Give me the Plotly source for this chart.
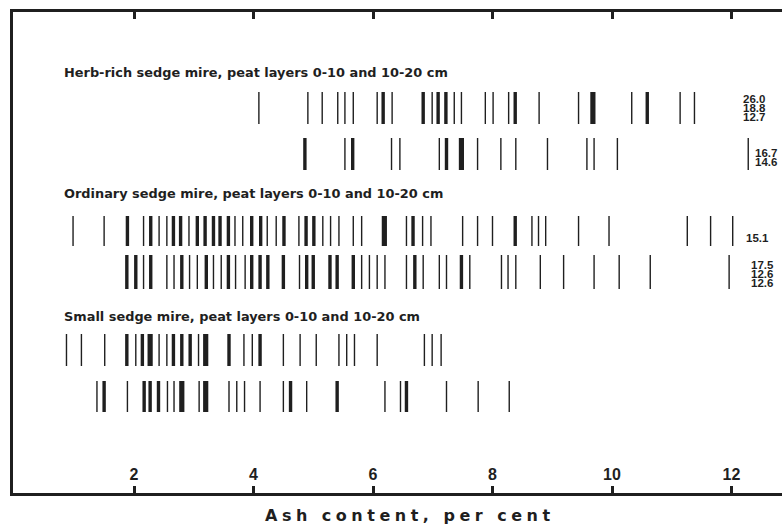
import plotly.graph_objects as go
from collections import Counter

# Ash content (per cent) of individual peat samples; a repeated value marks
# coinciding samples and is drawn as a heavier bar.
herb_0_10 = [4.09, 4.91, 5.15, 5.41, 5.53, 5.67, 6.07, 6.17, 6.17, 6.32, 6.84, 6.84,
             6.99, 7.09, 7.09, 7.22, 7.22, 7.36, 7.48, 7.88, 8.01, 8.27, 8.38, 8.38,
             8.78, 9.44, 9.68, 9.68, 9.68, 10.33, 10.59, 10.59, 11.14, 11.38]
herb_10_20 = [4.86, 4.86, 5.53, 5.66, 5.66, 6.31, 6.45, 7.11, 7.23, 7.23, 7.48, 7.48,
              7.48, 7.75, 8.14, 8.39, 8.92, 9.58, 9.70, 10.09, 12.28]
ordinary_0_10 = [0.98, 1.50, 1.89, 1.89, 2.16, 2.28, 2.28, 2.42, 2.55, 2.66, 2.66,
                 2.78, 2.78, 2.92, 3.06, 3.06, 3.19, 3.19, 3.33, 3.33, 3.44, 3.44,
                 3.58, 3.58, 3.69, 3.82, 3.97, 3.97, 4.12, 4.12, 4.23, 4.38, 4.51,
                 4.51, 4.76, 4.88, 4.88, 5.01, 5.01, 5.16, 5.29, 5.43, 5.67, 5.81,
                 6.19, 6.19, 6.19, 6.56, 6.67, 6.67, 6.83, 6.97, 7.50, 7.75, 8.00,
                 8.38, 8.38, 8.66, 8.77, 8.89, 9.44, 9.95, 11.26, 11.65, 12.02]
ordinary_10_20 = [1.88, 1.88, 2.03, 2.03, 2.16, 2.28, 2.28, 2.55, 2.67, 2.80, 2.80,
                  2.93, 3.06, 3.21, 3.21, 3.33, 3.46, 3.58, 3.58, 3.70, 3.86, 3.97,
                  3.97, 4.11, 4.11, 4.24, 4.24, 4.50, 4.50, 4.77, 4.89, 4.89, 5.00,
                  5.00, 5.28, 5.28, 5.40, 5.40, 5.67, 5.67, 5.81, 5.94, 6.07, 6.20,
                  6.56, 6.70, 6.70, 6.84, 7.11, 7.23, 7.48, 7.48, 7.62, 8.15, 8.26,
                  8.39, 8.80, 9.19, 9.70, 10.12, 10.64, 11.96]
small_0_10 = [0.87, 1.12, 1.51, 1.88, 1.88, 2.03, 2.14, 2.14, 2.27, 2.27, 2.27, 2.42,
              2.55, 2.66, 2.66, 2.80, 2.80, 2.94, 2.94, 3.08, 3.20, 3.20, 3.20, 3.59,
              3.59, 3.84, 3.98, 4.11, 4.11, 4.50, 4.78, 5.05, 5.43, 5.56, 5.69, 6.07,
              6.86, 6.99, 7.14]
small_10_20 = [1.38, 1.50, 1.50, 1.89, 2.17, 2.17, 2.27, 2.27, 2.41, 2.41, 2.56, 2.67,
               2.80, 2.80, 2.80, 3.09, 3.20, 3.20, 3.20, 3.59, 3.72, 3.85, 4.11, 4.50,
               4.62, 4.62, 4.89, 5.40, 5.40, 6.20, 6.46, 6.56, 6.56, 7.23, 7.76, 8.28]

# Samples lying beyond the drawn scale, listed as numbers at the right margin
offscale_herb_0_10 = [26.0, 18.8, 12.7]
offscale_herb_10_20 = [16.7, 14.6]
offscale_ordinary_0_10 = [15.1]
offscale_ordinary_10_20 = [17.5, 12.6, 12.6]

group_titles = ["Herb-rich sedge mire, peat layers 0-10 and 10-20 cm",
                "Ordinary sedge mire, peat layers 0-10 and 10-20 cm",
                "Small sedge mire, peat layers 0-10 and 10-20 cm"]

tick_values = [2, 4, 6, 8, 10, 12]
tick_labels = ["2", "4", "6", "8", "10", "12"]
x_title = "Ash content, per cent"

# ---- layout helpers (vertical units are pixels measured from the top frame) ----
INK = "#1f1f1f"
rows = [
    (herb_0_10, 80, 112, offscale_herb_0_10, 12.18, 87),
    (herb_10_20, 126, 158, offscale_herb_10_20, 12.37, 141),
    (ordinary_0_10, 204, 234, offscale_ordinary_0_10, 12.23, 226),
    (ordinary_10_20, 243, 277, offscale_ordinary_10_20, 12.31, 253),
    (small_0_10, 322, 354, [], 0, 0),
    (small_10_20, 369, 400, [], 0, 0),
]
title_y = [60, 181, 304]
bar_width = {1: 1.4, 2: 3.4, 3: 5.2}

fig = go.Figure()
for values, top, bottom, extra, ex_x, ex_y in rows:
    counts = Counter(values)
    by_weight = {}
    for v, n in counts.items():
        by_weight.setdefault(min(n, 3), []).append(v)
    for n, vs in sorted(by_weight.items()):
        xs, ys = [], []
        for v in sorted(vs):
            xs += [v, v, None]
            ys += [top, bottom, None]
        fig.add_trace(go.Scatter(x=xs, y=ys, mode="lines",
                                 line=dict(color=INK, width=bar_width[n]),
                                 hoverinfo="skip", showlegend=False))
    for i, val in enumerate(extra):
        fig.add_annotation(x=ex_x, y=ex_y + 9 * i, xref="x", yref="y",
                           text=f"{val:.1f}", showarrow=False,
                           xanchor="left", yanchor="middle", borderpad=0,
                           font=dict(family="Liberation Sans Narrow, Liberation Sans, Arial",
                                     size=11.5, color=INK, weight="bold"))

for t, y in zip(group_titles, title_y):
    fig.add_annotation(x=0.8, y=y, xref="x", yref="y", text=t, showarrow=False,
                       xanchor="left", yanchor="middle",
                       font=dict(family="DejaVu Sans, Liberation Sans, Arial", size=12.9,
                                 color=INK, weight="bold"))

fig.add_annotation(x=0.516, y=0, xref="paper", yref="paper", yshift=-22,
                   text=f'<span style="letter-spacing:4.5px">{x_title}</span>',
                   showarrow=False, xanchor="center", yanchor="middle",
                   font=dict(family="DejaVu Sans, Liberation Sans, Arial", size=16,
                             color=INK, weight="bold"))

fig.update_layout(
    width=782, height=526,
    margin=dict(l=13, r=0, t=12, b=33),
    paper_bgcolor="white", plot_bgcolor="white",
    xaxis=dict(range=[-0.025, 12.845], tickvals=tick_values, ticktext=tick_labels,
               ticks="inside", ticklen=7, tickwidth=2.5, tickcolor=INK,
               ticklabelposition="inside", ticklabelstandoff=3,
               showgrid=False, zeroline=False,
               showline=True, linewidth=3, linecolor=INK, mirror="ticks",
               tickfont=dict(family="Liberation Sans, Arial", size=16,
                             color=INK, weight="bold")),
    yaxis=dict(range=[481, 0], showgrid=False, zeroline=False, showticklabels=False,
               ticks="", showline=True, linewidth=3, linecolor=INK, mirror=False),
)

fig.write_html("out.html")
